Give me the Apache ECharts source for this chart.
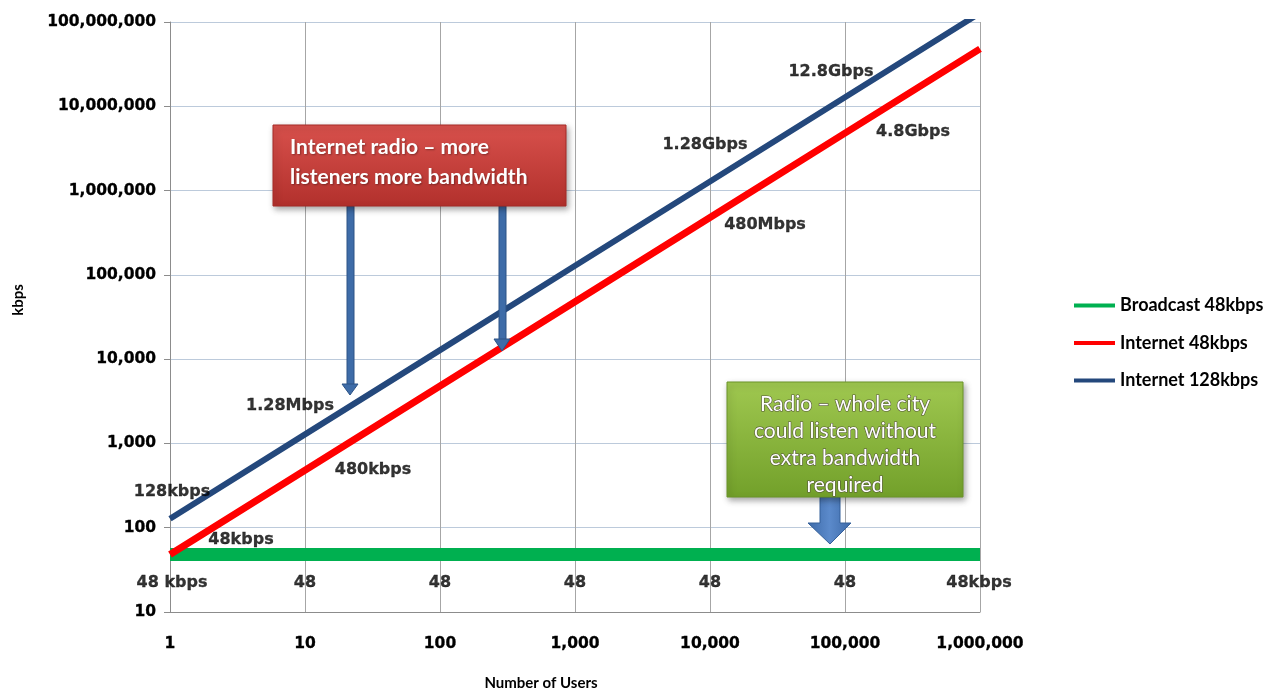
<!DOCTYPE html>
<html>
<head>
<meta charset="utf-8">
<script src="https://cdn.jsdelivr.net/npm/echarts@6/dist/echarts.min.js"></script>
<style>
  html, body { margin: 0; padding: 0; background: #fff; }
  #chart { width: 1270px; height: 690px; }
</style>
</head>
<body>
<div id="chart"></div>
<script>
// Bandwidth needed (kbps) versus number of listeners, log-log scale
const users = [1, 10, 100, 1000, 10000, 100000, 1000000];
const broadcast48 = [48, 48, 48, 48, 48, 48, 48];
const internet48 = [48, 480, 4800, 48000, 480000, 4800000, 48000000];
const internet128 = [128, 1280, 12800, 128000, 1280000, 12800000, 128000000];

const broadcastLabels = ['48 kbps', '48', '48', '48', '48', '48', '48kbps'];
const internet48Labels = ['48kbps', '480kbps', '', '', '480Mbps', '4.8Gbps', ''];
const internet128Labels = ['128kbps', '1.28Mbps', '', '', '1.28Gbps', '12.8Gbps', ''];

const seriesNames = ['Broadcast 48kbps', 'Internet 48kbps', 'Internet 128kbps'];

// label offsets (pixels) from each point
const broadcastOffsets = [[2, 28], [0, 28], [0, 28], [0, 28], [0, 28], [0, 28], [-1, 28]];
const internet48Offsets = [[71, -15], [68, 0], [0, 0], [0, 0], [55, 7], [68, -1], [0, 0]];
const internet128Offsets = [[2, -27], [-15, -29], [0, 0], [0, 0], [-5, -37], [-14, -25], [0, 0]];

const COLORS = ['#00b050', '#ff0000', '#24487c'];
const axisFont = {
  fontFamily: 'DejaVu Sans', fontWeight: 'bold', fontSize: 15.5, color: '#000',
  textBorderColor: '#000', textBorderWidth: 0.3
};
const labelFont = {
  fontFamily: 'DejaVu Sans', fontWeight: 'bold', fontSize: 16, color: '#000',
  textBorderColor: '#000', textBorderWidth: 0.3
};

function fmt(v) { return Math.round(v).toLocaleString('en-US'); }

function pairs(values) { return users.map((u, i) => [u, values[i]]); }

function labelSeries(values, texts, offsets) {
  const data = [];
  users.forEach((u, i) => {
    if (!texts[i]) return;
    data.push({
      value: [u, values[i]],
      label: { show: true, formatter: texts[i], offset: offsets[i] }
    });
  });
  return {
    type: 'scatter', data, symbol: 'circle', symbolSize: 1, silent: true, z: 5,
    itemStyle: { color: 'rgba(0,0,0,0)' },
    label: Object.assign({ position: 'inside', align: 'center', verticalAlign: 'middle' }, labelFont)
  };
}

const chart = echarts.init(document.getElementById('chart'), null, { renderer: 'canvas' });

const option = {
  backgroundColor: '#ffffff',
  animation: false,
  grid: { left: 170, right: 290, top: 22, bottom: 78, containLabel: false, outerBoundsMode: 'none' },
  legend: {
    orient: 'vertical', left: 1069, top: 291,
    data: seriesNames,
    icon: 'rect', itemWidth: 41, itemHeight: 4, itemGap: 18.5,
    textStyle: { fontFamily: 'Lato', fontWeight: 'bold', fontSize: 18, lineHeight: 19, color: '#000' }
  },
  xAxis: {
    type: 'log', logBase: 10, min: 1, max: 1000000,
    name: 'Number of Users', nameLocation: 'middle', nameGap: 64,
    nameTextStyle: { fontFamily: 'Lato', fontWeight: 'bold', fontSize: 15, color: '#000', padding: [0, 68, 0, 0] },
    axisLine: { lineStyle: { color: '#8c8c8c', width: 1 } },
    axisTick: { show: false },
    axisLabel: { margin: 24, formatter: fmt, ...axisFont },
    splitLine: { show: true, lineStyle: { color: '#a6a6a6', width: 1 } },
    minorTick: { show: false }
  },
  yAxis: {
    type: 'log', logBase: 10, min: 10, max: 100000000,
    name: 'kbps', nameLocation: 'middle', nameGap: 144, nameRotate: 90,
    nameTextStyle: { fontFamily: 'Lato', fontWeight: 'bold', fontSize: 15, color: '#000', padding: [0, 0, 0, 34] },
    axisLine: { show: true, lineStyle: { color: '#8c8c8c', width: 1 } },
    axisTick: { show: true, length: 6, lineStyle: { color: '#8c8c8c' } },
    axisLabel: { margin: 14, formatter: fmt, ...axisFont },
    splitLine: { show: true, lineStyle: { color: '#bccadb', width: 1 } }
  },
  series: [
    {
      name: seriesNames[0], type: 'line', data: pairs(broadcast48), symbol: 'none', clip: true,
      lineStyle: { color: COLORS[0], width: 13 }, itemStyle: { color: COLORS[0] }, z: 2
    },
    {
      name: seriesNames[1], type: 'line', data: pairs(internet48), symbol: 'none', clip: true,
      lineStyle: { color: COLORS[1], width: 7 }, itemStyle: { color: COLORS[1] }, z: 3
    },
    {
      name: seriesNames[2], type: 'line', data: pairs(internet128), symbol: 'none', clip: true,
      lineStyle: { color: COLORS[2], width: 6 }, itemStyle: { color: COLORS[2] }, z: 3
    },
    labelSeries(broadcast48, broadcastLabels, broadcastOffsets),
    labelSeries(internet48, internet48Labels, internet48Offsets),
    labelSeries(internet128, internet128Labels, internet128Offsets)
  ],
  graphic: [
    // callout: internet radio
    {
      type: 'rect', shape: { x: 273, y: 125, width: 293, height: 81 }, z: 20,
      style: {
        fill: new echarts.graphic.LinearGradient(0, 0, 0, 1, [
          { offset: 0, color: '#d8514c' }, { offset: 1, color: '#b2302c' }
        ]),
        stroke: '#a52a26', lineWidth: 1,
        shadowBlur: 6, shadowOffsetX: 2, shadowOffsetY: 3, shadowColor: 'rgba(0,0,0,0.35)'
      }
    },
    {
      type: 'text', x: 290, y: 132, z: 21,
      style: {
        text: 'Internet radio – more\nlisteners more bandwidth',
        fill: '#ffffff', font: 'bold 21px Lato', lineHeight: 30,
        textShadowColor: 'rgba(0,0,0,0.35)', textShadowBlur: 2, textShadowOffsetX: 1, textShadowOffsetY: 1
      }
    },
    // thin down arrows
    {
      type: 'rect', shape: { x: 347, y: 206, width: 7, height: 179 }, z: 19,
      style: { fill: '#3e6ca8', stroke: '#2c5285', lineWidth: 1 }
    },
    {
      type: 'polygon', shape: { points: [[342, 384], [358, 384], [350, 395]] }, z: 19,
      style: { fill: '#3e6ca8', stroke: '#2c5285', lineWidth: 1 }
    },
    {
      type: 'rect', shape: { x: 499, y: 206, width: 7, height: 134 }, z: 19,
      style: { fill: '#3e6ca8', stroke: '#2c5285', lineWidth: 1 }
    },
    {
      type: 'polygon', shape: { points: [[494, 339], [510, 339], [502, 351]] }, z: 19,
      style: { fill: '#3e6ca8', stroke: '#2c5285', lineWidth: 1 }
    },
    // callout: broadcast radio
    {
      type: 'rect', shape: { x: 727, y: 382, width: 236, height: 115 }, z: 20,
      style: {
        fill: new echarts.graphic.LinearGradient(0, 0, 0, 1, [
          { offset: 0, color: '#a0c850' }, { offset: 1, color: '#72a02a' }
        ]),
        stroke: '#6a9428', lineWidth: 1,
        shadowBlur: 6, shadowOffsetX: 2, shadowOffsetY: 3, shadowColor: 'rgba(0,0,0,0.35)'
      }
    },
    {
      type: 'text', x: 845, y: 391, z: 21,
      style: {
        text: 'Radio – whole city\ncould listen without\nextra bandwidth\nrequired',
        fill: '#ffffff', font: '21px Lato', lineHeight: 27, align: 'center',
        stroke: '#55553a', lineWidth: 1.2
      }
    },
    // block arrow
    {
      type: 'polygon', z: 19,
      shape: { points: [[820, 497], [840, 497], [840, 523], [851, 523], [830, 544], [808, 523], [820, 523]] },
      style: {
        fill: new echarts.graphic.LinearGradient(0, 0, 1, 0, [
          { offset: 0, color: '#3d6aa8' }, { offset: 0.5, color: '#5b8acb' }, { offset: 1, color: '#3d6aa8' }
        ]),
        stroke: '#35609a', lineWidth: 1
      }
    }
  ]
};

chart.setOption(option);
</script>
</body>
</html>
